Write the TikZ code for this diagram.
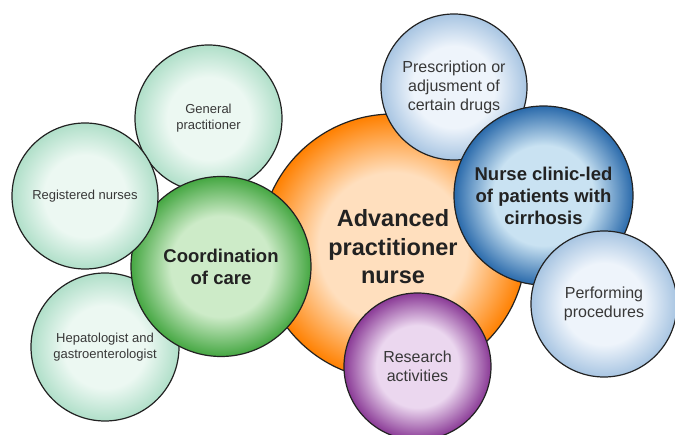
\documentclass[tikz,border=0pt]{standalone}
\usepackage{fontspec}
\setmainfont{Liberation Sans}
\usepackage{tikz}

% radial shading that stays light in the middle
\makeatletter
\pgfdeclareradialshading[tikz@radial@inner,tikz@radial@outer]{soft}{\pgfpointorigin}{%
  color(0bp)=(tikz@radial@inner); color(14bp)=(tikz@radial@inner);
  color(25bp)=(tikz@radial@outer); color(50bp)=(tikz@radial@outer)}
\makeatother

\definecolor{mintin}{HTML}{ECF8F2}
\definecolor{mintout}{HTML}{B0DFC9}
\definecolor{greenin}{HTML}{CDEBC8}
\definecolor{greenout}{HTML}{45A742}
\definecolor{orangein}{HTML}{FFDFBE}
\definecolor{orangeout}{HTML}{FF8000}
\definecolor{bluein}{HTML}{EEF4FB}
\definecolor{blueout}{HTML}{A8C5E2}
\definecolor{darkin}{HTML}{C9E2F2}
\definecolor{darkout}{HTML}{2A6AAB}
\definecolor{purplein}{HTML}{EBD7EF}
\definecolor{purpleout}{HTML}{8A3A96}
\definecolor{ink}{HTML}{222222}

\tikzset{
  bub/.style={circle, draw=ink, line width=1.2pt, inner sep=0pt, align=center, text=ink},
  mintbub/.style={inner color=mintin, outer color=mintout, shading=soft},
  greenbub/.style={inner color=greenin, outer color=greenout, shading=soft},
  orangebub/.style={inner color=orangein, outer color=orangeout, shading=soft},
  bluebub/.style={inner color=bluein, outer color=blueout, shading=soft},
  darkbub/.style={inner color=darkin, outer color=darkout, shading=soft},
  purplebub/.style={inner color=purplein, outer color=purpleout, shading=soft},
  smalltext/.style={font=\fontsize{13}{16}\selectfont, text=ink!90},
  midtext/.style={font=\fontsize{16}{19}\selectfont, text=ink!90},
  bigtext/.style={font=\bfseries\fontsize{18.5}{22}\selectfont},
  hugetext/.style={font=\bfseries\fontsize{23.5}{28.5}\selectfont}
}

\begin{document}
\begin{tikzpicture}[x=1pt,y=-1pt]
    \useasboundingbox (0,0) rectangle (675,435);

    % Central role
    \node[bub, orangebub, hugetext, minimum size=266pt] (apn) at (393,247) {Advanced\\practitioner\\nurse};

    % Team around coordination of care
    \node[bub, mintbub, smalltext, minimum size=147pt] (gp) at (208.5,118.5) {General\\practitioner};
    \node[bub, mintbub, smalltext, minimum size=148pt] (hep) at (105,347) {Hepatologist and\\gastroenterologist};
    \node[bub, greenbub, bigtext, minimum size=180pt] (coord) at (221,266.5) {Coordination\\of care};
    \node[bub, mintbub, smalltext, minimum size=146pt] (rn) at (85,196) {Registered nurses};

    % Tasks of the nurse
    \node[bub, bluebub, midtext, minimum size=146pt] (drugs) at (454,87) {Prescription or\\adjusment of\\certain drugs};
    \node[bub, darkbub, bigtext, minimum size=179pt] (clinic) at (543.5,195.5) {Nurse clinic-led\\of patients with\\cirrhosis};
    \node[bub, bluebub, midtext, minimum size=146pt] (proc) at (604,304) {Performing\\procedures};
    \node[bub, purplebub, midtext, minimum size=147pt] (res) at (417.5,366.5) {Research\\activities};
\end{tikzpicture}
\end{document}
